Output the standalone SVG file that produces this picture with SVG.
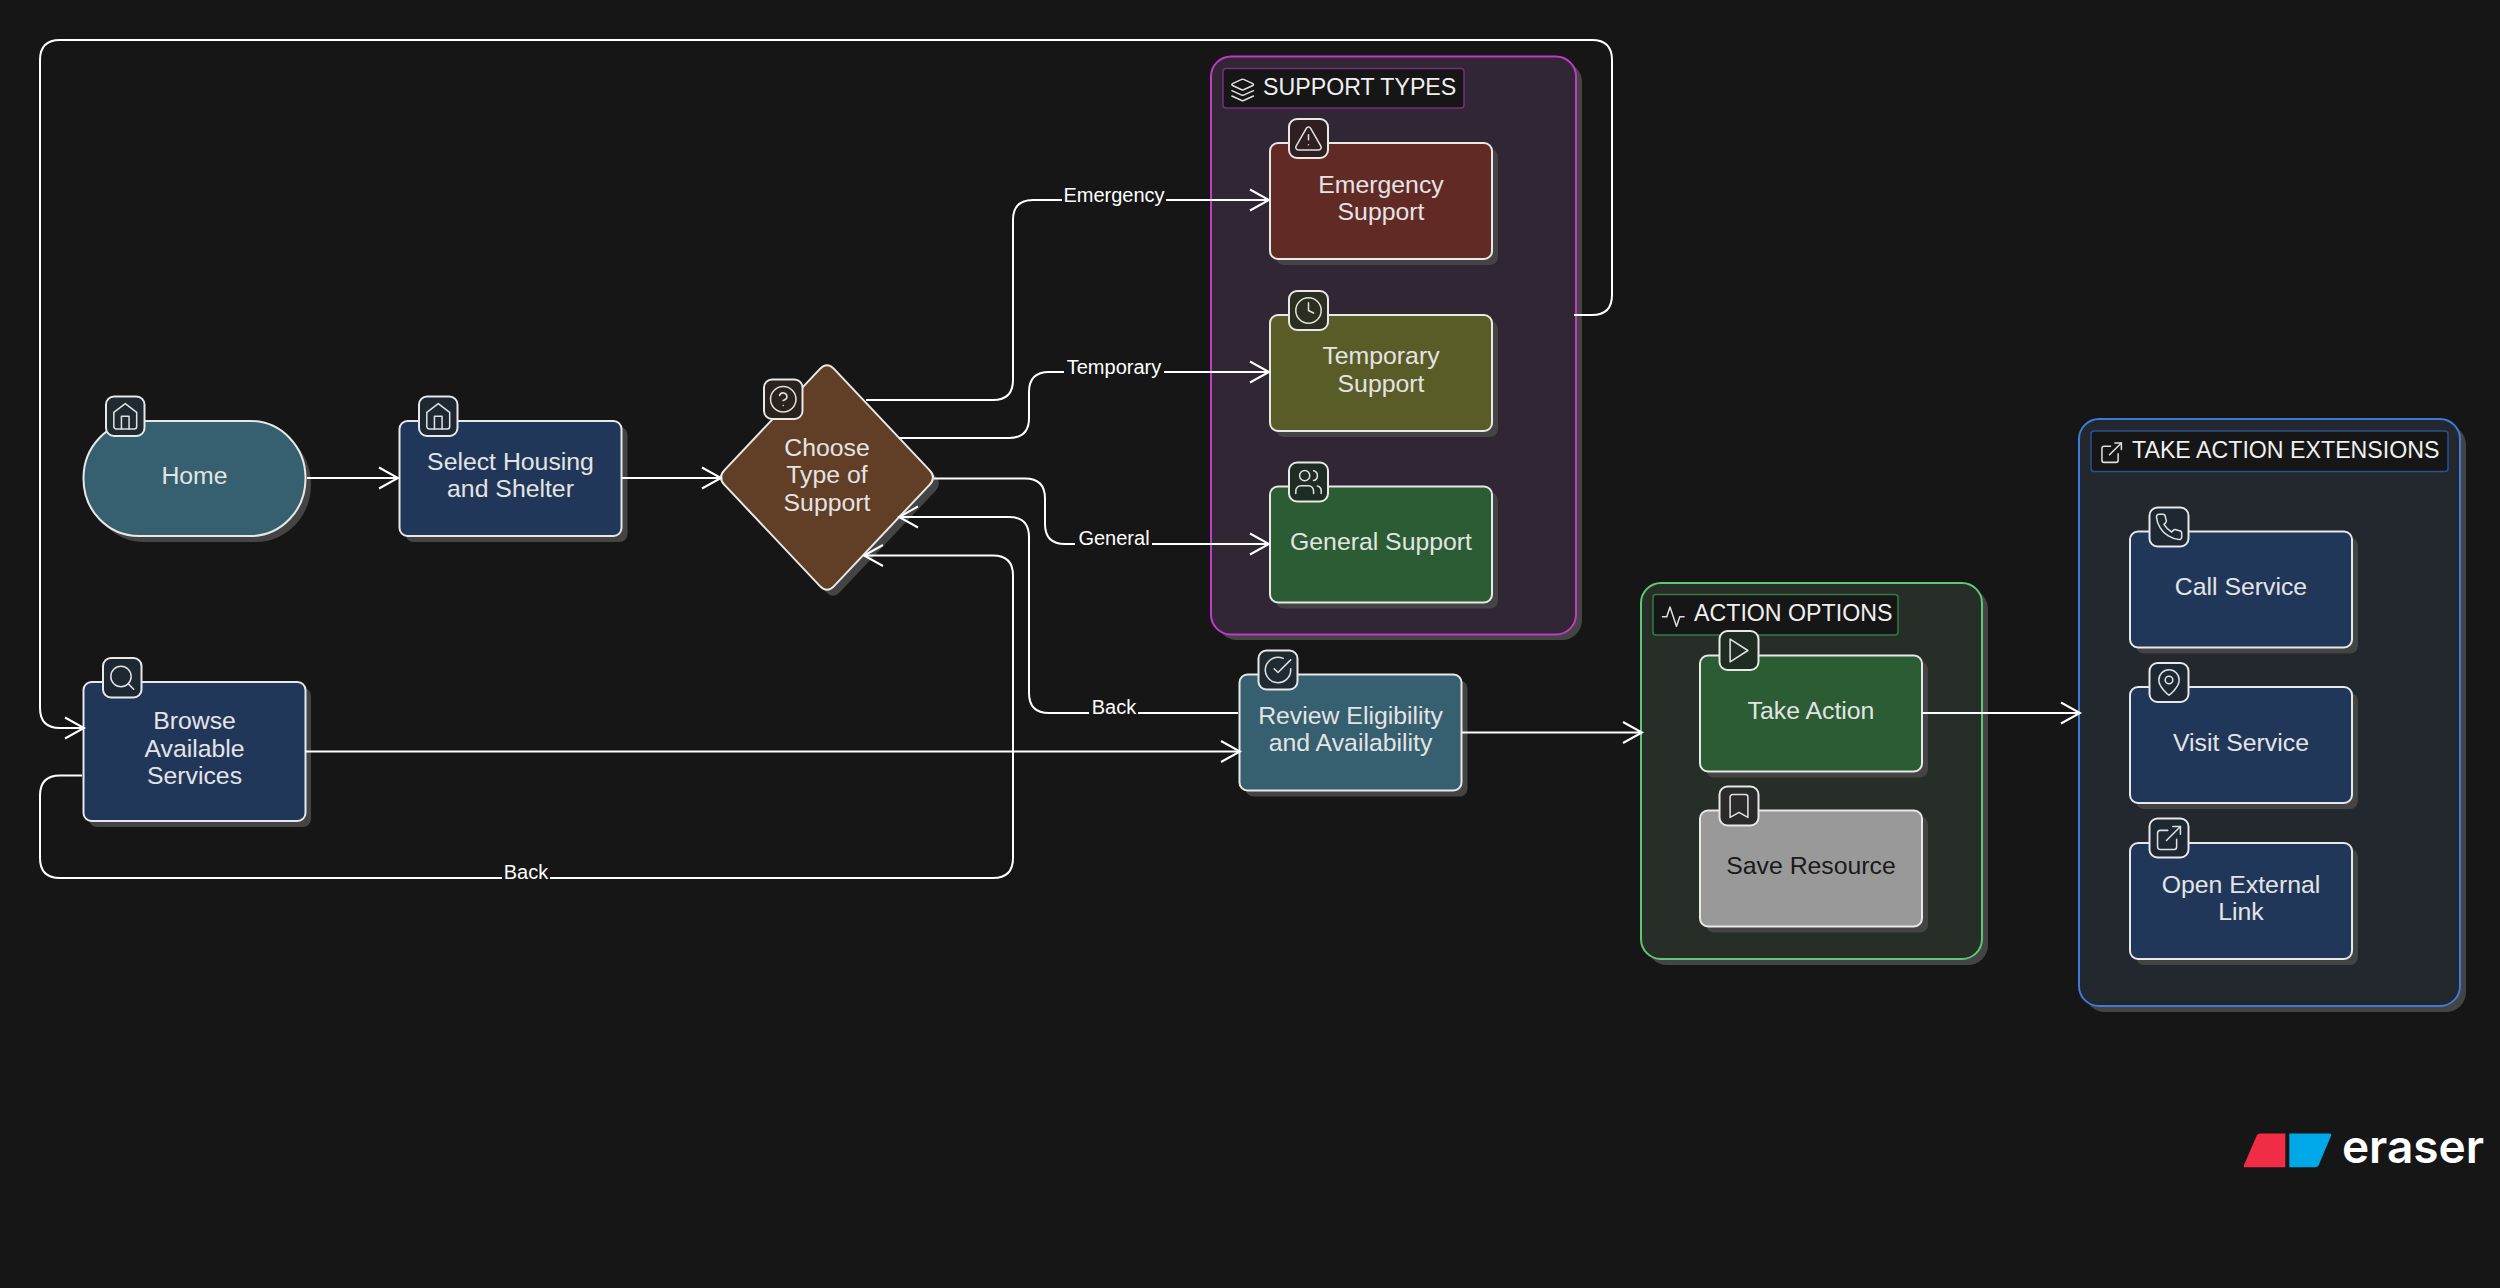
<svg xmlns="http://www.w3.org/2000/svg" width="2500" height="1288" viewBox="0 0 2500 1288">
<style>
text{font-family:"Liberation Sans",Arial,sans-serif;text-anchor:middle}
.nt{font-size:24.8px;fill:#e4e4e4}
.dk{fill:#1a1a1a}
.gt{font-size:23.2px;fill:#f0f0f0;text-anchor:start}
.et{font-size:20px;fill:#fff}
.sh{fill:#444}
.nb{stroke:#e8e8e8;stroke-width:2}
.ib{stroke:#e8e8e8;stroke-width:2}
.ic{fill:none;stroke:#e0e0e0;stroke-width:1.4;stroke-linecap:round;stroke-linejoin:round}
.in{stroke-width:1.2}
.c{fill:none;stroke:#fff;stroke-width:2}
.lb{fill:#161616}
.navy{fill:#21375a}.teal{fill:#36606f}.brown{fill:#613e26}.red{fill:#622a24}.olive{fill:#5a5c28}.green{fill:#2b5c34}.gray{fill:#999}
.inavy{fill:#1d2832}.iteal{fill:#1f2b30}.ibrown{fill:#2a221d}.ired{fill:#2f1f20}.iolive{fill:#2c2e20}.igreen{fill:#1f2c22}.igray{fill:#2b2b2b}
</style>
<defs>
<marker id="arr" markerUnits="userSpaceOnUse" markerWidth="24" markerHeight="26" refX="20" refY="12" orient="auto" overflow="visible"><path d="M1 1.5 L20 12 L1 22.5" fill="none" stroke="#fff" stroke-width="2"/></marker>
<g id="i-home"><path d="m3 9 9-7 9 7v11a2 2 0 0 1-2 2H5a2 2 0 0 1-2-2z"/><polyline points="9 22 9 12 15 12 15 22"/></g>
<g id="i-search"><circle cx="11" cy="11" r="8"/><line x1="21" y1="21" x2="16.65" y2="16.65"/></g>
<g id="i-help"><circle cx="12" cy="12" r="10"/><path d="M9.09 9a3 3 0 0 1 5.83 1c0 2-3 3-3 3"/><line x1="12" y1="17" x2="12.01" y2="17"/></g>
<g id="i-alert"><path d="m21.73 18-8-14a2 2 0 0 0-3.48 0l-8 14A2 2 0 0 0 4 21h16a2 2 0 0 0 1.73-3Z"/><path d="M12 9v4"/><path d="M12 17h.01"/></g>
<g id="i-clock"><circle cx="12" cy="12" r="10"/><polyline points="12 6 12 12 16 14"/></g>
<g id="i-users"><path d="M16 21v-2a4 4 0 0 0-4-4H6a4 4 0 0 0-4 4v2"/><circle cx="9" cy="7" r="4"/><path d="M22 21v-2a4 4 0 0 0-3-3.87"/><path d="M16 3.13a4 4 0 0 1 0 7.75"/></g>
<g id="i-check"><path d="M22 11.08V12a10 10 0 1 1-5.93-9.14"/><polyline points="22 4 12 14.01 9 11.01"/></g>
<g id="i-play"><polygon points="5 3 19 12 5 21 5 3"/></g>
<g id="i-bookmark"><path d="m19 21-7-4-7 4V5a2 2 0 0 1 2-2h10a2 2 0 0 1 2 2v16z"/></g>
<g id="i-phone"><path d="M22 16.92v3a2 2 0 0 1-2.18 2 19.79 19.79 0 0 1-8.63-3.07 19.5 19.5 0 0 1-6-6 19.79 19.79 0 0 1-3.07-8.67A2 2 0 0 1 4.11 2h3a2 2 0 0 1 2 1.72 12.84 12.84 0 0 0 .7 2.81 2 2 0 0 1-.45 2.11L8.09 9.91a16 16 0 0 0 6 6l1.27-1.27a2 2 0 0 1 2.11-.45 12.84 12.84 0 0 0 2.81.7A2 2 0 0 1 22 16.92z"/></g>
<g id="i-pin"><path d="M20 10c0 6-8 12-8 12s-8-6-8-12a8 8 0 0 1 16 0Z"/><circle cx="12" cy="10" r="3"/></g>
<g id="i-ext"><path d="M18 13v6a2 2 0 0 1-2 2H5a2 2 0 0 1-2-2V8a2 2 0 0 1 2-2h6"/><polyline points="15 3 21 3 21 9"/><line x1="10" y1="14" x2="21" y2="3"/></g>
<g id="i-layers"><path d="m12.83 2.18a2 2 0 0 0-1.66 0L2.6 6.08a1 1 0 0 0 0 1.83l8.58 3.91a2 2 0 0 0 1.66 0l8.58-3.9a1 1 0 0 0 0-1.83Z"/><path d="m22 17.65-9.17 4.16a2 2 0 0 1-1.66 0L2 17.65"/><path d="m22 12.65-9.17 4.16a2 2 0 0 1-1.66 0L2 12.65"/></g>
<g id="i-activity"><polyline points="22 12 18 12 15 21 9 3 6 12 2 12"/></g>
</defs>
<rect width="2500" height="1288" fill="#161616"/>

<g id="group-support-types">
<rect class="sh" x="1217" y="62" width="365" height="578" rx="20"/>
<rect x="1211" y="56.5" width="365" height="578" rx="20" fill="#312633" stroke="#c23ac9" stroke-width="2"/>
<rect x="1223" y="68.500" width="241" height="39.500" rx="3" fill="#161616" stroke="#7a2c80" stroke-width="1.500"/>
<g transform="translate(1229.700 77) scale(1.08)" class="ic"><use href="#i-layers"/></g>
<text class="gt" x="1263" y="94.500">SUPPORT TYPES</text>
</g>
<g id="group-action-options">
<rect class="sh" x="1647" y="589" width="341" height="376" rx="20"/>
<rect x="1641" y="583" width="341" height="376" rx="20" fill="#272e28" stroke="#5cc878" stroke-width="2"/>
<rect x="1653" y="594.500" width="245" height="40.500" rx="3" fill="#161616" stroke="#347a46" stroke-width="1.500"/>
<g transform="translate(1660.300 603.700) scale(1.08)" class="ic"><use href="#i-activity"/></g>
<text class="gt" x="1694" y="621">ACTION OPTIONS</text>
</g>
<g id="group-take-action-extensions">
<rect class="sh" x="2085" y="425" width="381" height="587" rx="20"/>
<rect x="2079" y="419" width="381" height="587" rx="20" fill="#23272e" stroke="#3e7bd8" stroke-width="2"/>
<rect x="2091" y="431" width="357" height="40.500" rx="3" fill="#161616" stroke="#2a5090" stroke-width="1.500"/>
<g transform="translate(2098.700 439.700) scale(1.08)" class="ic"><use href="#i-ext"/></g>
<text class="gt" x="2132" y="457.500">TAKE ACTION EXTENSIONS</text>
</g>

<g id="node-home">
<rect class="sh" x="89" y="427" width="222" height="115" rx="55" ry="57"/>
<rect class="nb teal" x="83.500" y="421" width="222" height="115" rx="55" ry="57"/>
<text class="nt" x="194.500" y="484">Home</text>
<rect class="ib iteal" x="106" y="396.500" width="38.500" height="39.500" rx="8"/>
<g transform="translate(125.250 416.250) scale(1.27) translate(-12 -12)" class="ic in"><use href="#i-home"/></g>
</g>
<g id="node-select-housing">
<rect class="sh" x="405.500" y="427" width="222" height="115" rx="8"/>
<rect class="nb navy" x="399.500" y="421" width="222" height="115" rx="8"/>
<text class="nt" x="510.500" y="470">Select Housing</text><text class="nt" x="510.500" y="497">and Shelter</text>
<rect class="ib inavy" x="419" y="396.500" width="38.500" height="39.500" rx="8"/>
<g transform="translate(438.250 416.250) scale(1.27) translate(-12 -12)" class="ic in"><use href="#i-home"/></g>
</g>
<g id="node-browse">
<rect class="sh" x="89" y="688" width="222" height="139" rx="8"/>
<rect class="nb navy" x="83.500" y="682" width="222" height="139" rx="8"/>
<text class="nt" x="194.500" y="729">Browse</text><text class="nt" x="194.500" y="756.500">Available</text><text class="nt" x="194.500" y="784">Services</text>
<rect class="ib inavy" x="103" y="658" width="38.500" height="39.500" rx="8"/>
<g transform="translate(122.250 677.750) scale(1.27) translate(-12 -12)" class="ic in"><use href="#i-search"/></g>
</g>
<g id="node-choose-support">
<path class="sh" transform="translate(6 6)" d="M724.500 470.100L820 368.900Q827 361.500 834 368.900L929.500 470.100Q936.500 477.500 929.500 484.900L834 586.100Q827 593.500 820 586.100L724.500 484.900Q717.500 477.500 724.500 470.100Z"/>
<path class="nb brown" d="M724.500 470.100L820 368.900Q827 361.500 834 368.900L929.500 470.100Q936.500 477.500 929.500 484.900L834 586.100Q827 593.500 820 586.100L724.500 484.900Q717.500 477.500 724.500 470.100Z"/>
<text class="nt" x="827" y="456">Choose</text><text class="nt" x="827" y="483">Type of</text><text class="nt" x="827" y="510.500">Support</text>
<rect class="ib ibrown" x="764" y="379.500" width="38.500" height="39.500" rx="8"/>
<g transform="translate(783.250 399.250) scale(1.27) translate(-12 -12)" class="ic in"><use href="#i-help"/></g>
</g>
<g id="node-emergency">
<rect class="sh" x="1276" y="149" width="222" height="116" rx="8"/>
<rect class="nb red" x="1270" y="143" width="222" height="116" rx="8"/>
<text class="nt" x="1381" y="192.500">Emergency</text><text class="nt" x="1381" y="220">Support</text>
<rect class="ib ired" x="1289" y="119" width="39" height="39" rx="8"/>
<g transform="translate(1308.500 138.500) scale(1.27) translate(-12 -12)" class="ic in"><use href="#i-alert"/></g>
</g>
<g id="node-temporary">
<rect class="sh" x="1276" y="321" width="222" height="116" rx="8"/>
<rect class="nb olive" x="1270" y="315" width="222" height="116" rx="8"/>
<text class="nt" x="1381" y="364">Temporary</text><text class="nt" x="1381" y="391.500">Support</text>
<rect class="ib iolive" x="1289" y="291" width="39" height="39" rx="8"/>
<g transform="translate(1308.500 310.500) scale(1.27) translate(-12 -12)" class="ic in"><use href="#i-clock"/></g>
</g>
<g id="node-general">
<rect class="sh" x="1276" y="492.500" width="222" height="116" rx="8"/>
<rect class="nb green" x="1270" y="486.500" width="222" height="116" rx="8"/>
<text class="nt" x="1381" y="549.500">General Support</text>
<rect class="ib igreen" x="1289" y="462.500" width="39" height="39" rx="8"/>
<g transform="translate(1308.500 482) scale(1.27) translate(-12 -12)" class="ic in"><use href="#i-users"/></g>
</g>
<g id="node-review">
<rect class="sh" x="1245.500" y="680.500" width="222" height="116" rx="8"/>
<rect class="nb teal" x="1239.500" y="674.500" width="222" height="116" rx="8"/>
<text class="nt" x="1350.500" y="724">Review Eligibility</text><text class="nt" x="1350.500" y="751">and Availability</text>
<rect class="ib iteal" x="1258.500" y="650.500" width="39" height="39" rx="8"/>
<g transform="translate(1278 670) scale(1.27) translate(-12 -12)" class="ic in"><use href="#i-check"/></g>
</g>
<g id="node-take-action">
<rect class="sh" x="1706" y="661.500" width="222" height="116" rx="8"/>
<rect class="nb green" x="1700" y="655.500" width="222" height="116" rx="8"/>
<text class="nt" x="1811" y="718.500">Take Action</text>
<rect class="ib igreen" x="1719.500" y="631" width="39" height="39" rx="8"/>
<g transform="translate(1739 650.500) scale(1.27) translate(-12 -12)" class="ic in"><use href="#i-play"/></g>
</g>
<g id="node-save-resource">
<rect class="sh" x="1706" y="816.500" width="222" height="116" rx="8"/>
<rect class="nb gray" x="1700" y="810.500" width="222" height="116" rx="8"/>
<text class="nt dk" x="1811" y="873.500">Save Resource</text>
<rect class="ib igray" x="1719.500" y="786.500" width="39" height="39" rx="8"/>
<g transform="translate(1739 806) scale(1.27) translate(-12 -12)" class="ic in"><use href="#i-bookmark"/></g>
</g>
<g id="node-call">
<rect class="sh" x="2136" y="537.500" width="222" height="116" rx="8"/>
<rect class="nb navy" x="2130" y="531.500" width="222" height="116" rx="8"/>
<text class="nt" x="2241" y="594.500">Call Service</text>
<rect class="ib inavy" x="2149.500" y="507.500" width="39" height="39" rx="8"/>
<g transform="translate(2169 527) scale(1.27) translate(-12 -12)" class="ic in"><use href="#i-phone"/></g>
</g>
<g id="node-visit">
<rect class="sh" x="2136" y="693" width="222" height="116" rx="8"/>
<rect class="nb navy" x="2130" y="687" width="222" height="116" rx="8"/>
<text class="nt" x="2241" y="750.500">Visit Service</text>
<rect class="ib inavy" x="2149.500" y="663" width="39" height="39" rx="8"/>
<g transform="translate(2169 682.500) scale(1.27) translate(-12 -12)" class="ic in"><use href="#i-pin"/></g>
</g>
<g id="node-open-link">
<rect class="sh" x="2136" y="849" width="222" height="116" rx="8"/>
<rect class="nb navy" x="2130" y="843" width="222" height="116" rx="8"/>
<text class="nt" x="2241" y="892.500">Open External</text><text class="nt" x="2241" y="919.500">Link</text>
<rect class="ib inavy" x="2149.500" y="818.500" width="39" height="39" rx="8"/>
<g transform="translate(2169 838) scale(1.27) translate(-12 -12)" class="ic in"><use href="#i-ext"/></g>
</g>

<g id="connectors">
<path class="c" marker-end="url(#arr)" d="M307 478H398"/>
<path class="c" marker-end="url(#arr)" d="M622 478H721"/>
<path class="c" marker-end="url(#arr)" d="M866 400H993Q1013 400 1013 380V220Q1013 200 1033 200H1269"/>
<path class="c" marker-end="url(#arr)" d="M899 438H1009Q1029 438 1029 418V392Q1029 372 1049 372H1269"/>
<path class="c" marker-end="url(#arr)" d="M934 478.500H1025Q1045 478.500 1045 498.500V524Q1045 544 1065 544H1269"/>
<path class="c" marker-end="url(#arr)" d="M1238 713H1049Q1029 713 1029 693V537Q1029 517 1009 517H899"/>
<path class="c" marker-end="url(#arr)" d="M82 775.500H60Q40 775.500 40 795.500V858Q40 878 60 878H993Q1013 878 1013 858V575.500Q1013 555.500 993 555.500H864"/>
<path class="c" marker-end="url(#arr)" d="M305 751.500H1240"/>
<path class="c" marker-end="url(#arr)" d="M1574 315H1592Q1612 315 1612 295V60Q1612 40 1592 40H60Q40 40 40 60V708Q40 728 60 728H84"/>
<path class="c" marker-end="url(#arr)" d="M1462 732.500H1642"/>
<path class="c" marker-end="url(#arr)" d="M1922 713H2080"/>
<g id="edge-labels">
<rect class="lb" x="1062" y="180" width="104" height="30"/><text class="et" x="1114" y="201.500">Emergency</text>
<rect class="lb" x="1064" y="355" width="100" height="28"/><text class="et" x="1114" y="373.500">Temporary</text>
<rect class="lb" x="1075" y="525" width="77" height="28"/><text class="et" x="1114" y="545">General</text>
<rect class="lb" x="1089" y="695" width="49" height="28"/><text class="et" x="1114" y="713.500">Back</text>
<rect class="lb" x="502" y="860" width="48" height="28"/><text class="et" x="526" y="879">Back</text>
</g>
</g>

<g id="logo">
<path d="M2257 1135Q2258 1133.500 2260 1133.500H2285.300V1167.300H2245Q2243 1167.300 2244 1165Z" fill="#f02d45"/>
<path d="M2289.300 1133.500H2329.500Q2332 1133.500 2331 1136L2318.500 1165.500Q2317.500 1167.300 2315.500 1167.300H2289.300Z" fill="#00a8e8"/>
<text x="2413" y="1163" style="font-family:Inter,'Liberation Sans',sans-serif;font-size:46px;font-weight:600;fill:#fff">eraser</text>
</g>
</svg>
